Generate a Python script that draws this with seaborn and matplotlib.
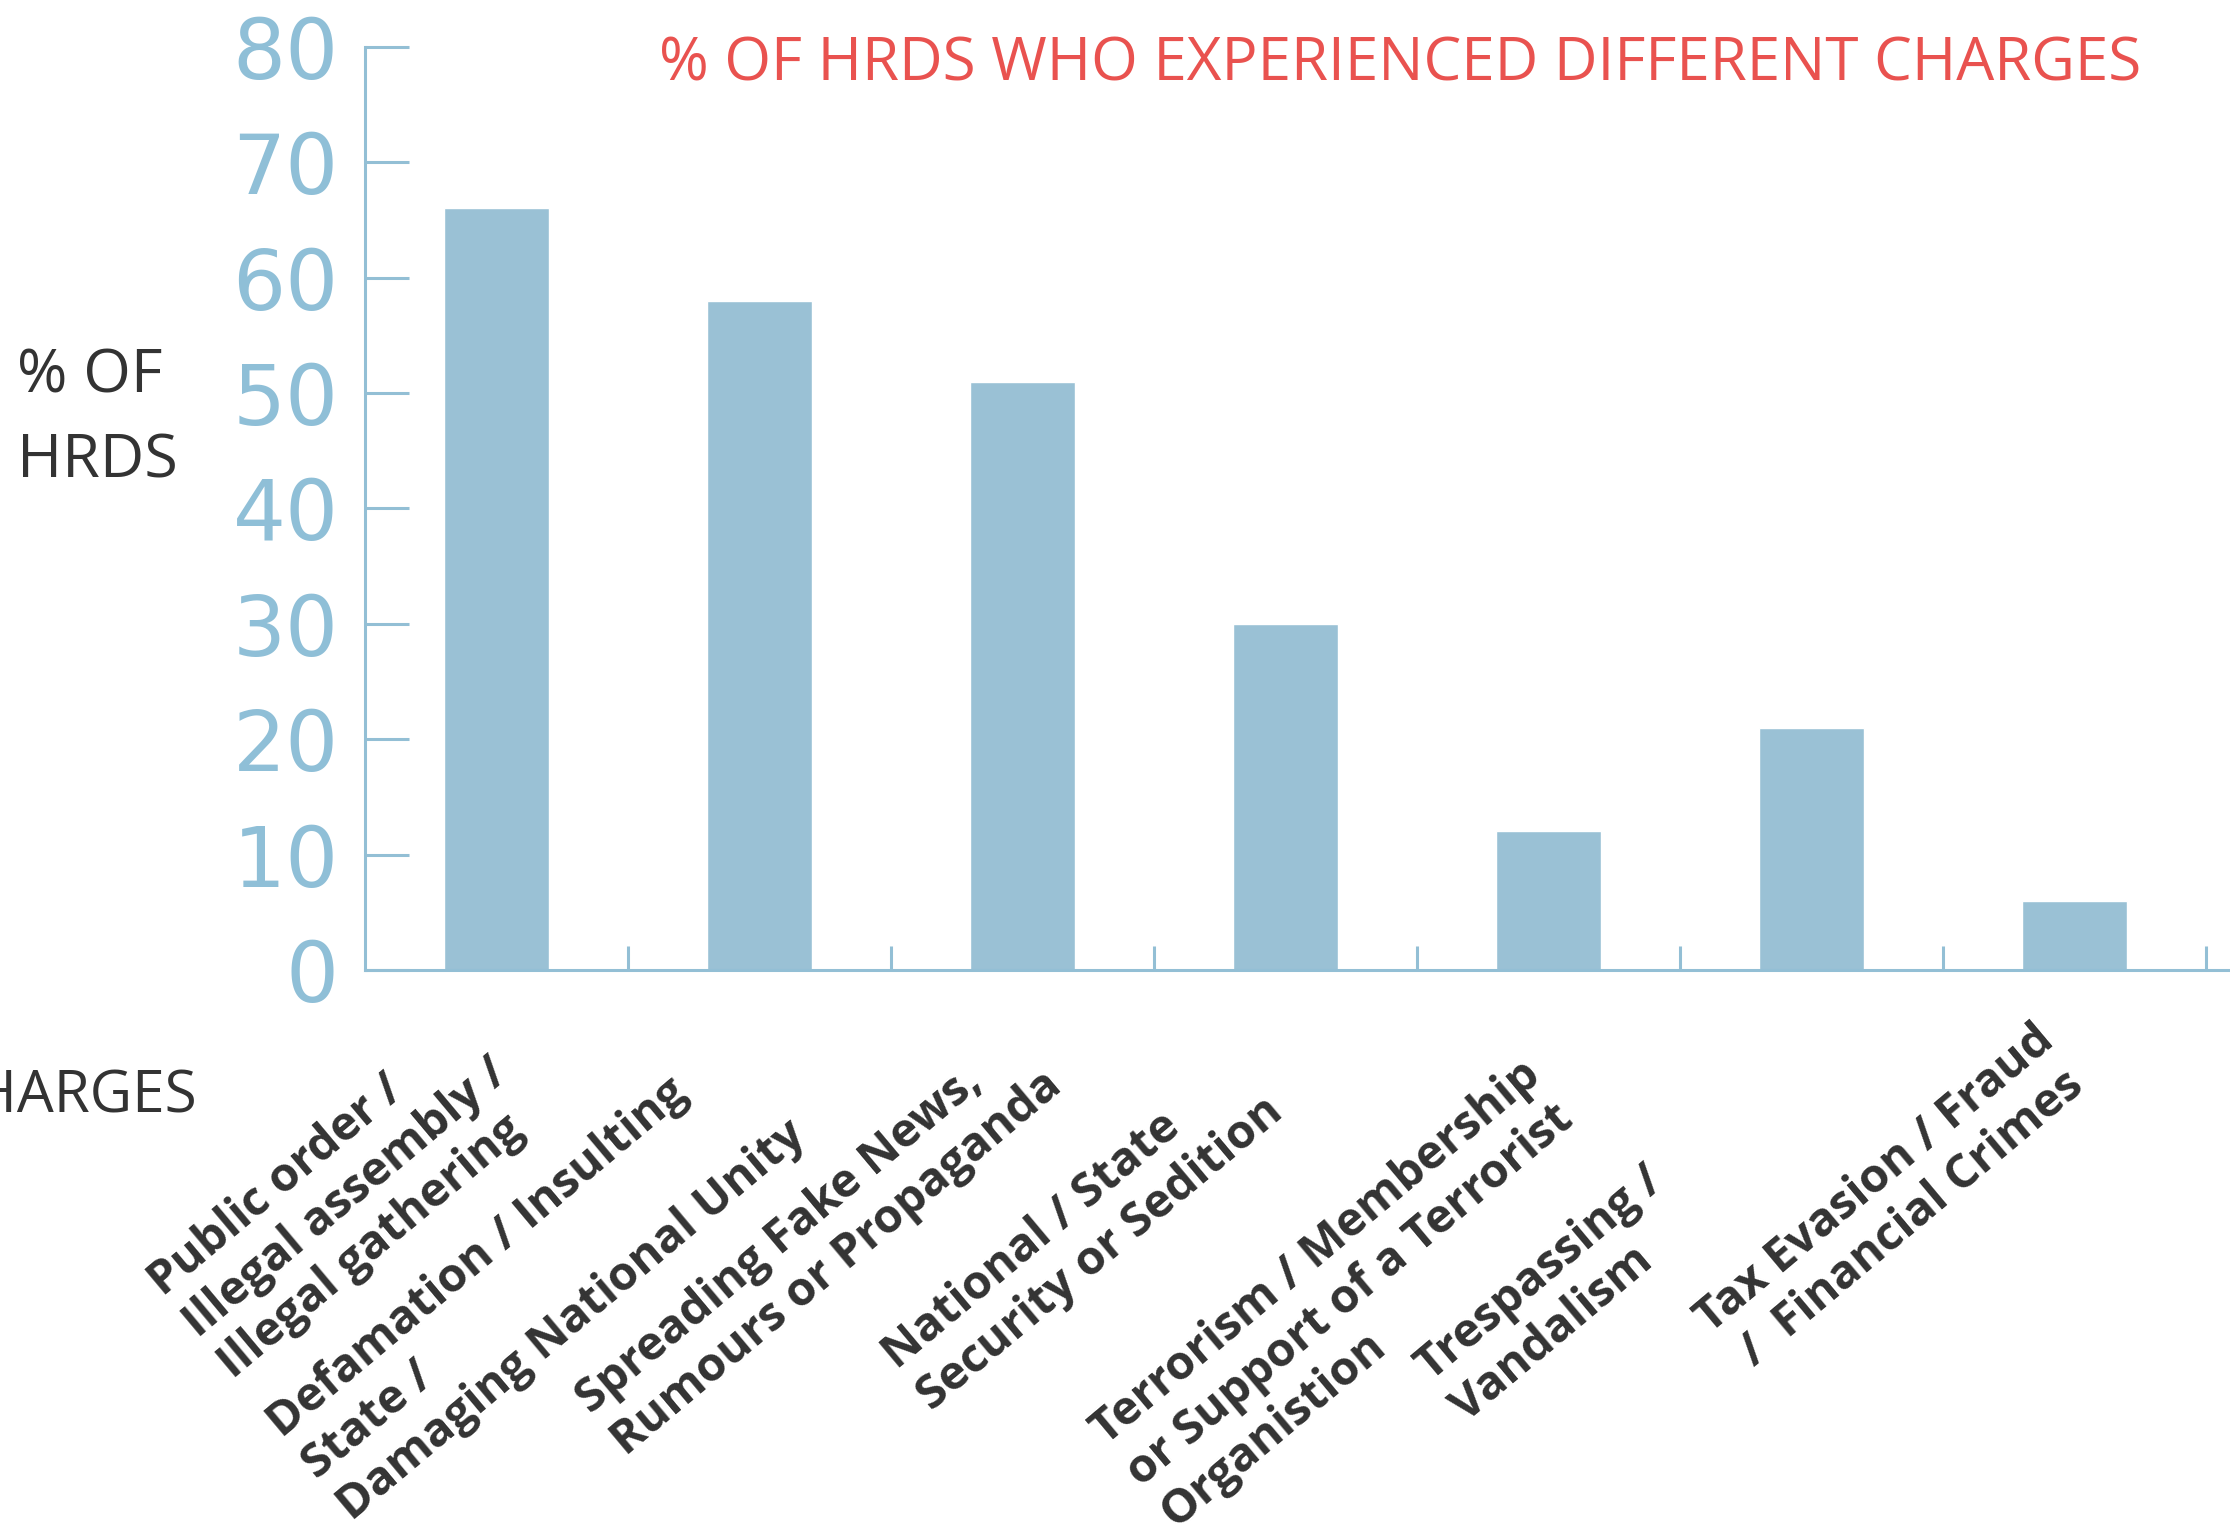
import numpy as np
import pandas as pd
import seaborn as sns
import matplotlib.pyplot as plt
import matplotlib.transforms as mtransforms
from matplotlib.ticker import FixedLocator

# Data
charges = [
    'Public order /\nIllegal assembly /\nIllegal gathering',
    'Defamation / Insulting\nState /\nDamaging National Unity',
    'Spreading Fake News,\nRumours or Propaganda',
    'National / State\nSecurity or Sedition',
    'Terrorism / Membership\nor Support of a Terrorist\nOrganistion',
    'Trespassing /\nVandalism',
    'Tax Evasion / Fraud\n /  Financial Crimes',
]
pct_hrds = [66, 58, 51, 30, 12, 21, 6]
y_ticks = [0, 10, 20, 30, 40, 50, 60, 70, 80]

# nudges (points) so each rotated label sits where it does in the original
label_dx = [-32, -32, -12, -42, -21, -122, -30]
label_dy = [3, -12, -6, -25, -29, -105, -3]

df = pd.DataFrame({'charge': charges, 'pct': pct_hrds})

bar_color = '#9ac1d5'
axis_color = '#93bfd5'
label_blue = '#8fbfd7'
dark = '#333333'
red = '#e9524f'

sns.set_style('white')
plt.rcParams['font.family'] = ['Open Sans', 'DejaVu Sans']

fig = plt.figure(figsize=(22.30, 15.34), dpi=100)
ax = fig.add_axes([0.1637, 0.3677, 0.8363, 0.6017])

sns.barplot(data=df, x='charge', y='pct', color=bar_color, width=0.4,
            saturation=1, ax=ax)

ax.set_xlim(-0.5, 6.59)
ax.set_ylim(0, 80)
ax.set_xlabel('')
ax.set_ylabel('')

for side in ['top', 'right']:
    ax.spines[side].set_visible(False)
for side in ['left', 'bottom']:
    ax.spines[side].set_color(axis_color)
    ax.spines[side].set_linewidth(2.2)

# y axis: big light blue numbers, ticks pointing into the plot
ax.set_yticks(y_ticks)
ax.set_yticklabels([str(v) for v in y_ticks], family='DejaVu Sans',
                   fontsize=60, color=label_blue)
ax.tick_params(axis='y', direction='in', length=32, width=2.2,
               color=axis_color, pad=19, left=True)

# x axis: minor ticks between categories, labels rotated
ax.xaxis.set_minor_locator(FixedLocator(np.arange(0.5, len(charges), 1)))
ax.tick_params(axis='x', which='major', length=0, pad=30)
ax.tick_params(axis='x', which='minor', direction='in', length=17,
               width=2.2, color=axis_color, bottom=True)
for lab, dx, dy in zip(ax.get_xticklabels(), label_dx, label_dy):
    lab.set_rotation(40)
    lab.set_ha('right')
    lab.set_va('top')
    lab.set_rotation_mode('anchor')
    lab.set_multialignment('left')
    lab.set_fontweight('bold')
    lab.set_fontsize(34)
    lab.set_color(dark)
    offset = mtransforms.ScaledTranslation(dx / 72, dy / 72, fig.dpi_scale_trans)
    lab.set_transform(lab.get_transform() + offset)

fig.text(0.628, 0.958, '% OF HRDS WHO EXPERIENCED DIFFERENT CHARGES',
         color=red, fontsize=43.3, ha='center', va='center')
fig.text(0.0076, 0.727, '% OF\nHRDS', color=dark, fontsize=44,
         ha='left', va='center', linespacing=1.55)
fig.text(-0.0281, 0.285, 'CHARGES', color=dark, fontsize=42,
         ha='left', va='center')

fig.savefig('out.png', dpi=100)
